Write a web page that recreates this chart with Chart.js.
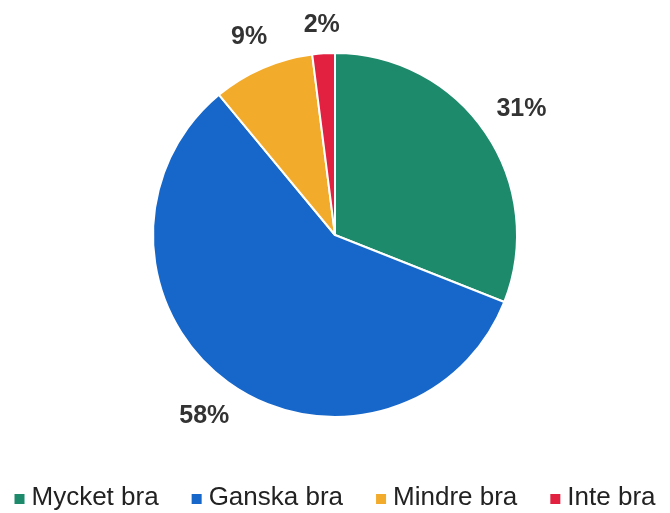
<!DOCTYPE html>
<html lang="sv">
<head>
  <meta charset="UTF-8" />
  <title>Pie</title>
  <script src="https://cdn.jsdelivr.net/npm/chart.js"></script>
  <style>
    html, body { margin: 0; padding: 0; background: #ffffff; }
    #wrap { width: 670px; height: 513px; }
  </style>
</head>
<body>
  <div id="wrap"><canvas id="pie" width="670" height="513"></canvas></div>
  <script>
    const categories = ['Mycket bra', 'Ganska bra', 'Mindre bra', 'Inte bra'];
    const shares = [31, 58, 9, 2];
    const colors = ['#1d8a6b', '#1667c9', '#f3ab2b', '#e2203f'];

    // percent labels outside each slice, box edge kept a fixed gap from the rim
    const outsideLabels = {
      id: 'outsideLabels',
      afterDatasetsDraw(chart) {
        const ctx = chart.ctx;
        const meta = chart.getDatasetMeta(0);
        ctx.save();
        ctx.font = 'bold 25px "Liberation Sans", Arial, sans-serif';
        ctx.fillStyle = '#333333';
        ctx.textAlign = 'center';
        ctx.textBaseline = 'middle';
        meta.data.forEach((arc, i) => {
          const txt = shares[i] + '%';
          const w = ctx.measureText(txt).width;
          const h = 24;
          const mid = (arc.startAngle + arc.endAngle) / 2;
          const cx = Math.cos(mid), cy = Math.sin(mid);
          const r = arc.outerRadius + 16 + Math.abs(cx) * w / 2 + Math.abs(cy) * h / 2;
          ctx.fillText(txt, arc.x + cx * r, arc.y + cy * r + 1);
        });
        ctx.restore();
      }
    };

    // legend row at the bottom
    const bottomLegend = {
      id: 'bottomLegend',
      afterDraw(chart) {
        const ctx = chart.ctx;
        ctx.save();
        ctx.font = '26px "Liberation Sans", Arial, sans-serif';
        ctx.textBaseline = 'middle';
        const box = 10, gap = 7, spacing = 33;
        const widths = categories.map(c => box + gap + ctx.measureText(c).width);
        const total = widths.reduce((a, b) => a + b, 0) + spacing * (categories.length - 1);
        let x = (chart.width - total) / 2;
        const y = 498;
        categories.forEach((c, i) => {
          ctx.fillStyle = colors[i];
          ctx.fillRect(x, y - box / 2 + 1, box, box);
          ctx.fillStyle = '#222222';
          ctx.fillText(c, x + box + gap, y);
          x += widths[i] + spacing;
        });
        ctx.restore();
      }
    };

    new Chart(document.getElementById('pie'), {
      type: 'pie',
      data: {
        labels: categories,
        datasets: [{
          data: shares,
          backgroundColor: colors,
          borderColor: '#ffffff',
          borderWidth: 2
        }]
      },
      options: {
        responsive: false,
        animation: false,
        layout: { padding: { top: 52, bottom: 95, left: 0, right: 0 } },
        plugins: {
          legend: { display: false },
          tooltip: { enabled: false }
        }
      },
      plugins: [outsideLabels, bottomLegend]
    });
  </script>
</body>
</html>
